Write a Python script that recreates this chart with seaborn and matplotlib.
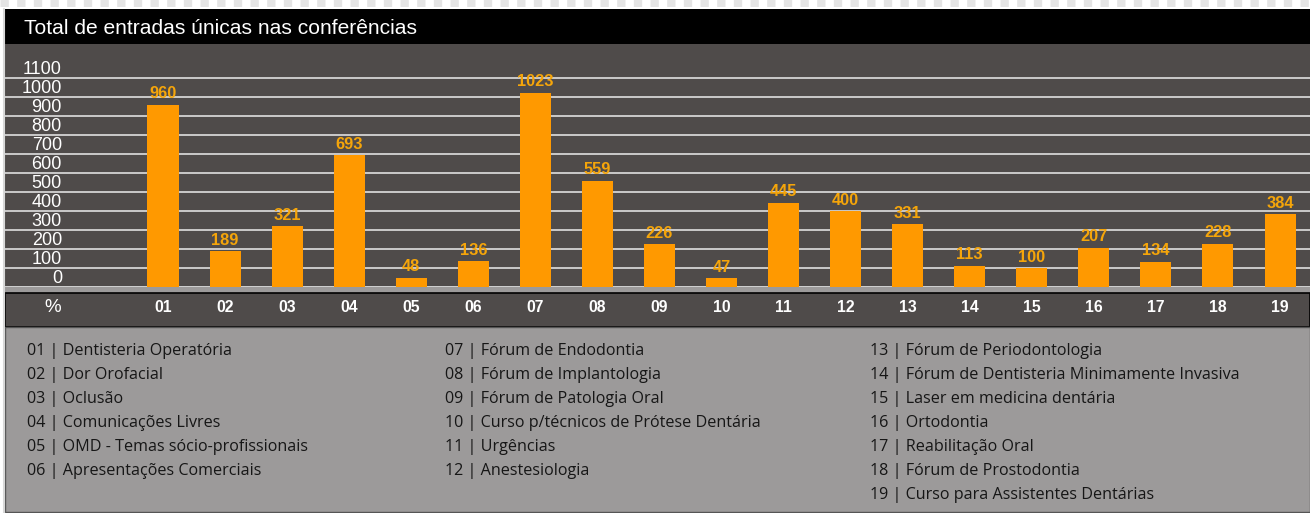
"""Total de entradas únicas nas conferências - bar chart with legend panel"""

import matplotlib.pyplot as plt
import seaborn as sns
from matplotlib.patches import Rectangle

codes = ["01", "02", "03", "04", "05", "06", "07", "08", "09", "10",
         "11", "12", "13", "14", "15", "16", "17", "18", "19"]
entries = [960, 189, 321, 693, 48, 136, 1023, 559, 226, 47,
           445, 400, 331, 113, 100, 207, 134, 228, 384]
names = [
    "Dentisteria Operatória", "Dor Orofacial", "Oclusão",
    "Comunicações Livres", "OMD - Temas sócio-profissionais",
    "Apresentações Comerciais", "Fórum de Endodontia",
    "Fórum de Implantologia", "Fórum de Patologia Oral",
    "Curso p/técnicos de Prótese Dentária", "Urgências", "Anestesiologia",
    "Fórum de Periodontologia", "Fórum de Dentisteria Minimamente Invasiva",
    "Laser em medicina dentária", "Ortodontia", "Reabilitação Oral",
    "Fórum de Prostodontia", "Curso para Assistentes Dentárias",
]
y_ticks = list(range(0, 1200, 100))
title = "Total de entradas únicas nas conferências"

W, H = 1310, 513
DARK = "#4f4b4a"
ORANGE = "#ff9900"
LIGHT = "#9c9a9a"

sns.set_style("white")
plt.rcParams["font.family"] = ["Liberation Sans", "DejaVu Sans"]

fig = plt.figure(figsize=(W / 100, H / 100), dpi=100)


def fx(px):
    return px / W


def fy(py):
    return 1 - py / H


def band(x0, y0, x1, y1, color, **kw):
    fig.patches.append(
        Rectangle((fx(x0), fy(y1)), fx(x1 - x0), (y1 - y0) / H,
                  transform=fig.transFigure, facecolor=color, zorder=-1, **kw)
    )


# background bands
band(5, 9, W, 44, "black", edgecolor="none")
band(5, 44, W, 294, DARK, edgecolor="none")
band(5, 286, W, 293, LIGHT, edgecolor="none")
band(5, 293, W, 327, DARK, edgecolor="black", linewidth=1.2)
band(5, 327, W, 512, LIGHT, edgecolor="#555555", linewidth=1)
fig.add_artist(plt.Line2D([fx(4), fx(4)], [0, fy(9)], color="#d8d8d8", lw=1.5))
fig.add_artist(plt.Line2D([0, 1], [fy(3), fy(3)], color="#e4e4e4", lw=5,
                          linestyle=(0, (1.2, 1.2))))

fig.text(fx(24), fy(28), title, color="white", fontsize=15.1, va="center")

# bar chart axes: zero line at y=287
ax = fig.add_axes([fx(5), fy(287), fx(W - 5), (287 - 44) / H])
ax.set_zorder(5)
ax.set_facecolor("none")
sns.barplot(x=codes, y=entries, color=ORANGE, saturation=1, width=0.5,
            ax=ax, zorder=3, linewidth=0, edgecolor="none")
ax.bar_label(ax.containers[0], color="#f5a50a", fontsize=11.8,
             fontweight="bold", padding=2.5)

ax.set_ylim(0, 1280)
ax.set_xlim(-2.546, 18.483)
ax.set_yticks(y_ticks)
ax.set_yticklabels([str(v) for v in y_ticks])
for lbl in ax.get_yticklabels():
    lbl.set_va("bottom")
ax.tick_params(axis="y", length=0, pad=-41, labelsize=13, labelcolor="white")
ax.tick_params(axis="x", length=0, pad=9, labelsize=11.3, labelcolor="white")
for lbl in ax.get_xticklabels():
    lbl.set_fontweight("bold")
ax.yaxis.grid(True, color="#d4d4d4", linewidth=1.3, zorder=1)
ax.set_axisbelow(True)
ax.set_xlabel("")
ax.set_ylabel("")
for spine in ax.spines.values():
    spine.set_visible(False)

fig.text(fx(53), fy(307), "%", color="white", fontsize=13.5, ha="center",
         va="center")

# legend panel, three columns
col_x = [27, 445, 870]
col_rows = [6, 6, 7]
i = 0
for cx, nrows in zip(col_x, col_rows):
    for r in range(nrows):
        fig.text(fx(cx), fy(351 + 24 * r), f"{codes[i]} | {names[i]}",
                 fontsize=11.6, color="#161616", va="center",
                 family=["Open Sans", "DejaVu Sans"])
        i += 1

plt.savefig("out.png", dpi=100)
plt.close()
